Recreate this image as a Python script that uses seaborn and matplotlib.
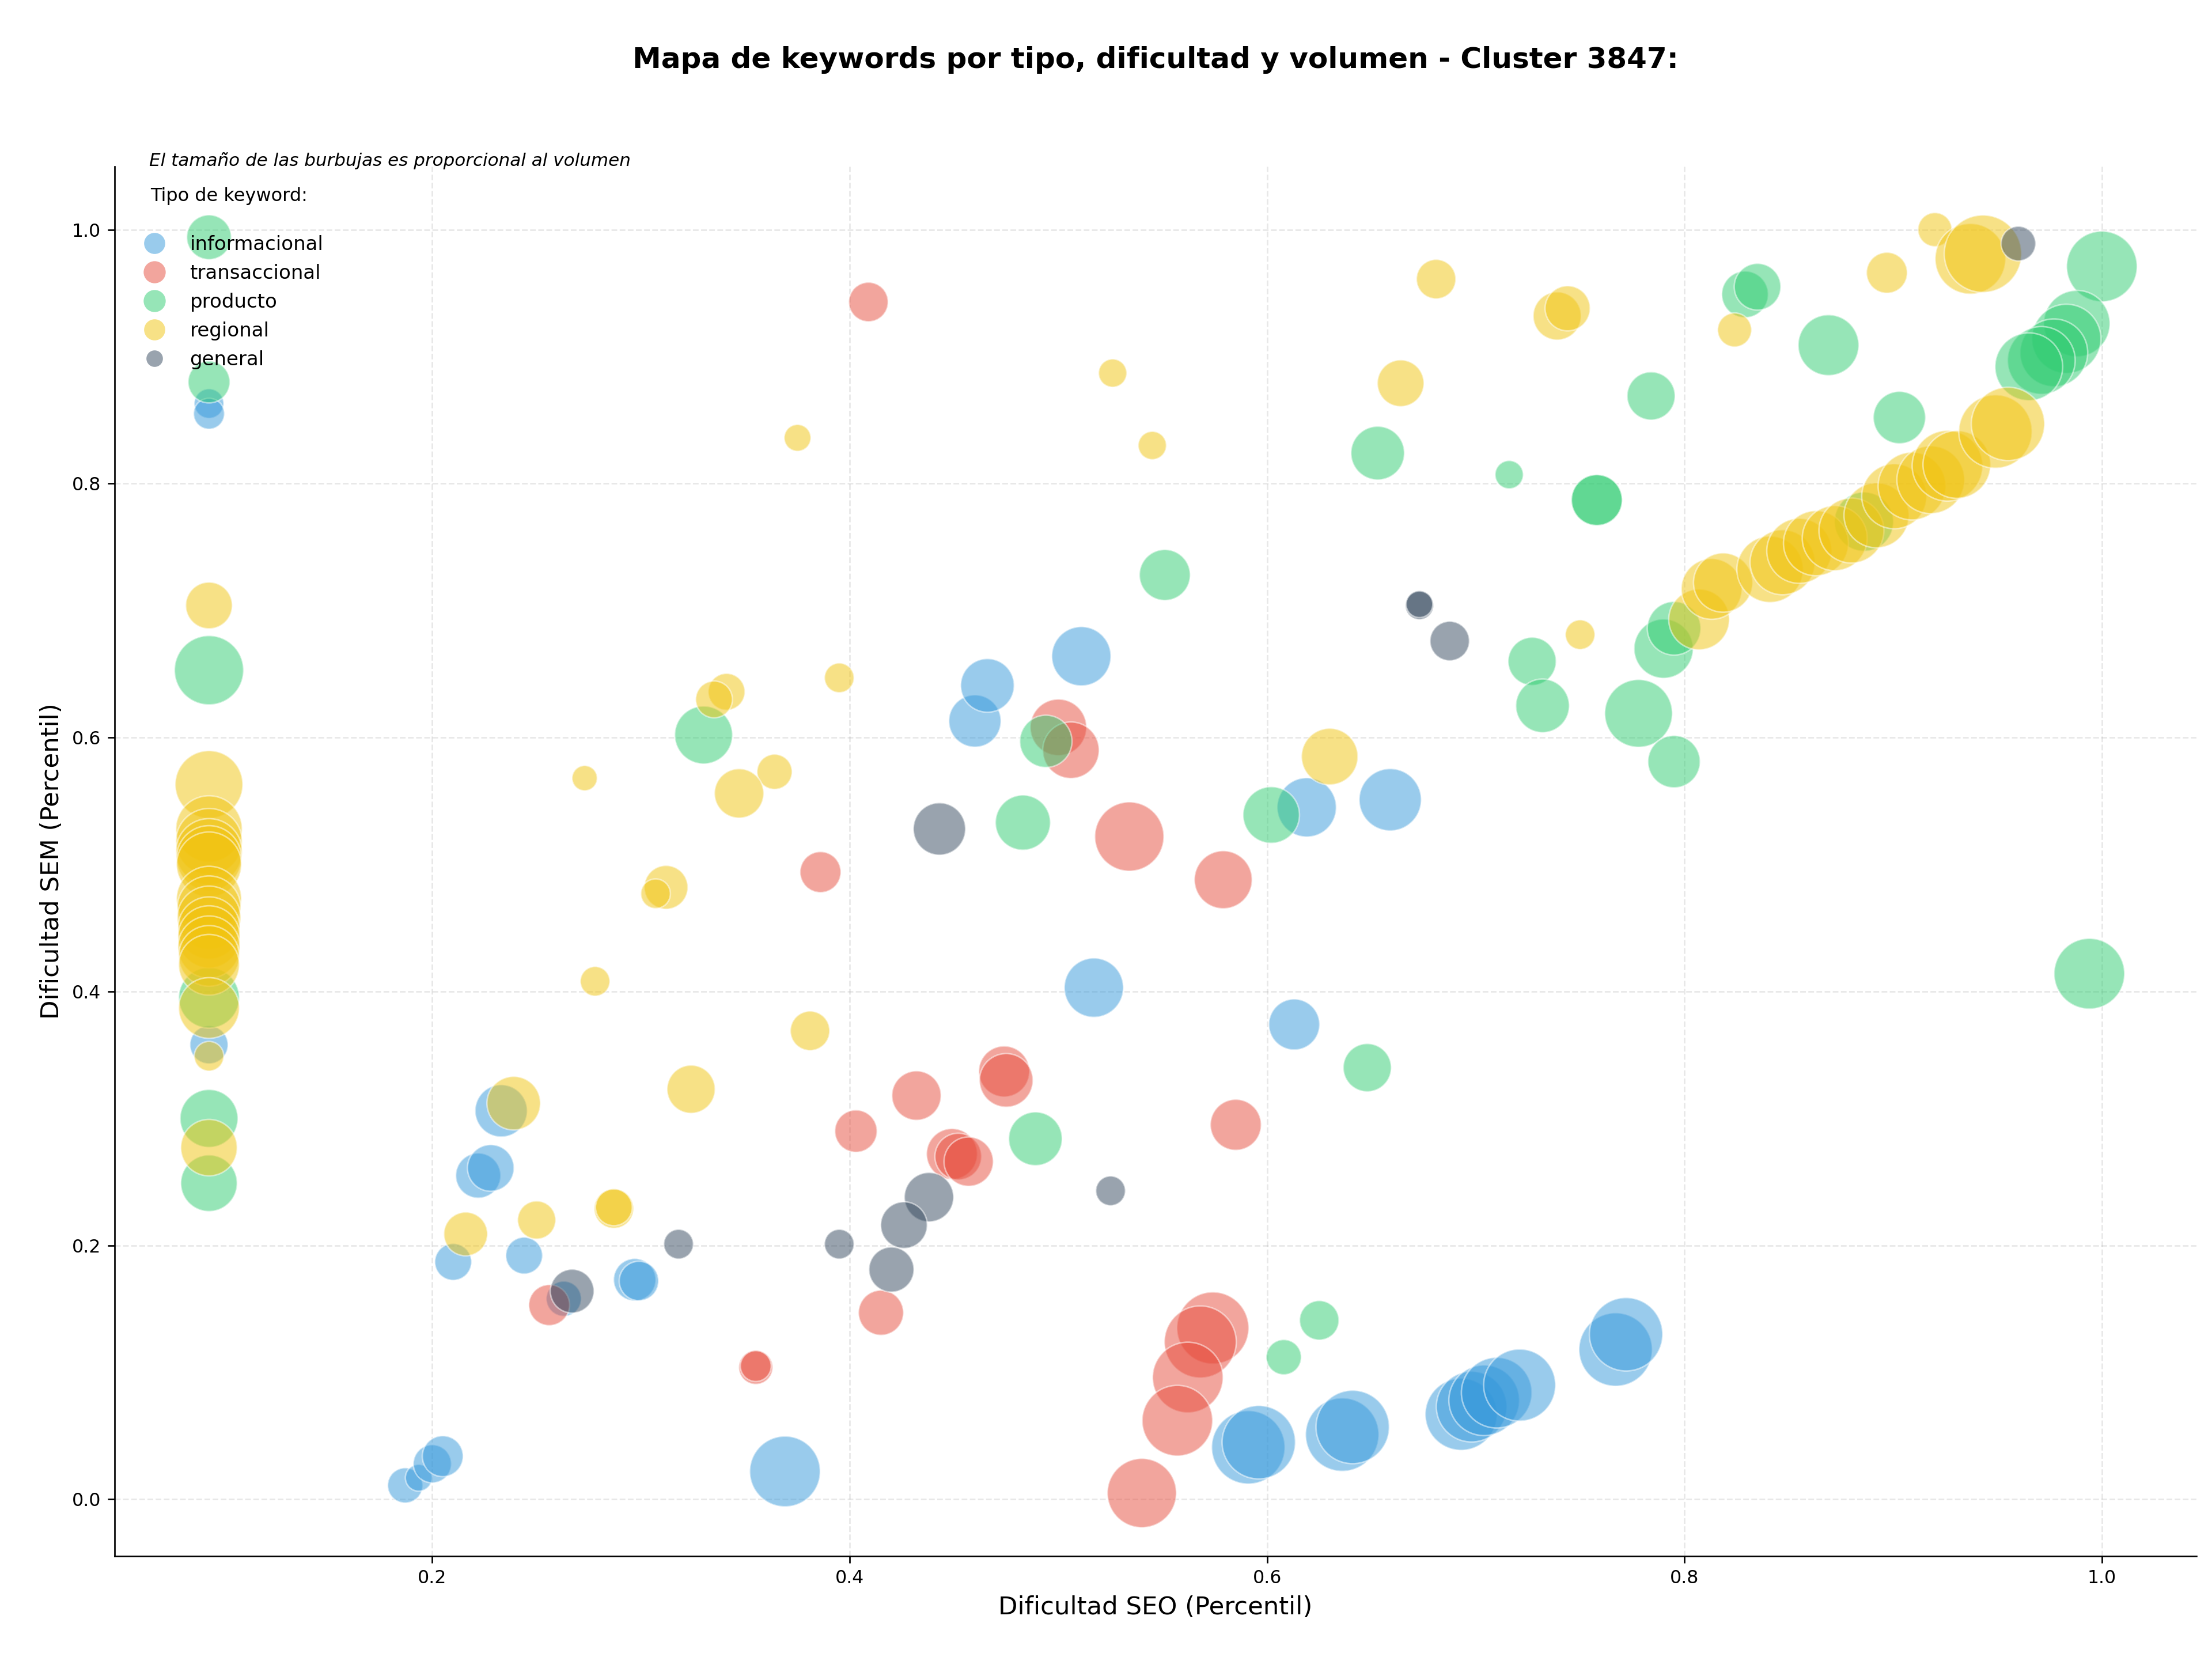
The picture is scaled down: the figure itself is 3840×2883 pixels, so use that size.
import pandas as pd
import matplotlib.pyplot as plt
from matplotlib.lines import Line2D
import seaborn as sns

# Tipos de keyword y colores
tipos = ['informacional', 'transaccional', 'producto', 'regional', 'general']
colores = {'informacional': '#3498db', 'transaccional': '#e74c3c',
           'producto': '#2ecc71', 'regional': '#f1c40f', 'general': '#34495e'}

# informacional
info_seo = [0.093, 0.093, 0.093, 0.187, 0.1935, 0.200, 0.205, 0.210, 0.222, 0.228, 0.233, 0.244,
            0.263, 0.297, 0.299, 0.369, 0.460, 0.466, 0.511, 0.517, 0.613, 0.619, 0.659, 0.591,
            0.596, 0.636, 0.641, 0.693, 0.698, 0.704, 0.710, 0.721, 0.767, 0.772]
info_sem = [0.863, 0.855, 0.358, 0.011, 0.017, 0.028, 0.034, 0.187, 0.255, 0.261, 0.306, 0.192,
            0.158, 0.173, 0.172, 0.022, 0.613, 0.641, 0.664, 0.403, 0.374, 0.545, 0.551, 0.041,
            0.045, 0.051, 0.057, 0.067, 0.073, 0.078, 0.084, 0.090, 0.118, 0.130]
info_vol = [440, 480, 730, 620, 360, 730, 840, 680, 1020, 1090, 1370, 680,
            620, 900, 780, 2500, 1370, 1440, 1760, 1760, 1300, 1760, 1940, 2700,
            2700, 2700, 2700, 2600, 2500, 2500, 2500, 2600, 2700, 2700]

# transaccional
trans_seo = [0.409, 0.386, 0.355, 0.355, 0.256, 0.403, 0.415, 0.432, 0.449, 0.452, 0.457, 0.474,
             0.475, 0.500, 0.506, 0.534, 0.579, 0.585, 0.574, 0.568, 0.562, 0.557, 0.540]
trans_sem = [0.943, 0.494, 0.104, 0.105, 0.153, 0.290, 0.147, 0.318, 0.272, 0.270, 0.266, 0.337,
             0.330, 0.608, 0.590, 0.522, 0.488, 0.295, 0.135, 0.124, 0.096, 0.062, 0.005]
trans_vol = [780, 840, 580, 480, 840, 900, 1020, 1220, 1300, 1090, 1220, 1300,
             1440, 1600, 1600, 2400, 1680, 1300, 2600, 2600, 2500, 2500, 2400]

# producto
prod_seo = [0.093, 0.093, 0.093, 0.093, 0.093, 0.093, 0.330, 0.483, 0.494, 0.489, 0.551, 0.602,
            0.625, 0.608, 0.648, 0.653, 0.716, 0.758, 0.758, 0.727, 0.732, 0.778, 0.795, 0.790,
            0.795, 0.784, 0.829, 0.835, 0.869, 0.903, 1.000, 0.988, 0.983, 0.977, 0.971, 0.965,
            0.994, 0.886]
prod_sem = [0.994, 0.880, 0.653, 0.395, 0.300, 0.249, 0.602, 0.533, 0.597, 0.284, 0.728, 0.539,
            0.141, 0.112, 0.340, 0.824, 0.807, 0.787, 0.787, 0.660, 0.625, 0.619, 0.581, 0.670,
            0.686, 0.869, 0.949, 0.955, 0.909, 0.852, 0.971, 0.926, 0.914, 0.903, 0.897, 0.892,
            0.414, 0.770]
prod_vol = [1000, 880, 2400, 1850, 1680, 1600, 1680, 1520, 1370, 1440, 1300, 1600,
            780, 620, 1160, 1440, 400, 1300, 1300, 1160, 1440, 2300, 1370, 1760,
            1440, 1160, 1090, 1090, 1850, 1370, 2500, 2210, 2400, 2300, 2300, 2300,
            2500, 1760]

# regional
reg_seo = [0.093, 0.093, 0.093, 0.093, 0.093, 0.093, 0.093, 0.093, 0.093, 0.093, 0.093, 0.093,
           0.093, 0.093, 0.093, 0.093, 0.093, 0.093,
           0.375, 0.273, 0.341, 0.335, 0.364, 0.347, 0.395, 0.312, 0.307, 0.278, 0.381, 0.324,
           0.239, 0.216, 0.250, 0.287, 0.287, 0.526, 0.545, 0.630, 0.681, 0.664, 0.739, 0.744,
           0.750, 0.824, 0.897, 0.920, 0.937, 0.943,
           0.807, 0.813, 0.8185, 0.841, 0.847, 0.855, 0.863, 0.872, 0.880, 0.892, 0.9005, 0.909,
           0.918, 0.926, 0.9305, 0.949, 0.955]
reg_sem = [0.704, 0.563, 0.528, 0.518, 0.510, 0.505, 0.500, 0.473, 0.466, 0.458, 0.450, 0.443,
           0.435, 0.428, 0.421, 0.387, 0.349, 0.277,
           0.836, 0.568, 0.636, 0.630, 0.573, 0.556, 0.647, 0.482, 0.477, 0.408, 0.369, 0.323,
           0.312, 0.209, 0.220, 0.229, 0.230, 0.887, 0.830, 0.585, 0.961, 0.879, 0.932, 0.938,
           0.681, 0.921, 0.966, 1.000, 0.977, 0.981,
           0.693, 0.717, 0.722, 0.7325, 0.738, 0.747, 0.753, 0.757, 0.763, 0.775, 0.790, 0.798,
           0.803, 0.814, 0.815, 0.841, 0.847]
reg_vol = [1090, 2300, 2210, 2210, 2210, 2120, 2120, 2120, 2020, 2020, 1940, 1940,
           1940, 1850, 1850, 1850, 440, 1600,
           360, 320, 680, 680, 620, 1220, 440, 960, 440, 440, 780, 1160,
           1440, 960, 730, 780, 680, 400, 400, 1600, 780, 1090, 1160, 1020,
           440, 580, 840, 580, 2500, 3140,
           1850, 1850, 1760, 2210, 2120, 2120, 2120, 2120, 2120, 2120, 2120, 2300,
           2300, 2500, 2300, 2700, 2700]

# general
gen_seo = [0.673, 0.673, 0.6875, 0.443, 0.318, 0.395, 0.438, 0.426, 0.420, 0.267, 0.525, 0.960]
gen_sem = [0.704, 0.705, 0.676, 0.528, 0.201, 0.201, 0.238, 0.216, 0.181, 0.164, 0.243, 0.989]
gen_vol = [400, 360, 780, 1370, 440, 440, 1220, 1090, 1020, 960, 440, 600]

series = {
    'informacional': (info_seo, info_sem, info_vol),
    'transaccional': (trans_seo, trans_sem, trans_vol),
    'producto': (prod_seo, prod_sem, prod_vol),
    'regional': (reg_seo, reg_sem, reg_vol),
    'general': (gen_seo, gen_sem, gen_vol),
}
frames = []
for tipo, (seo, sem, vol) in series.items():
    frames.append(pd.DataFrame({'seo': seo, 'sem': sem, 'volumen': vol, 'tipo': tipo}))
df = pd.concat(frames, ignore_index=True)

fig, ax = plt.subplots(figsize=(16, 12.0125), dpi=240)
fig.subplots_adjust(left=0.0517, right=0.993, bottom=0.0631, top=0.8998)

# burbujas: area proporcional al volumen
for tipo in tipos:
    sub = df[df['tipo'] == tipo]
    sns.scatterplot(data=sub, x='seo', y='sem', size='volumen',
                    sizes=(0, 1620), size_norm=(0, 3000),
                    color=colores[tipo], alpha=0.5, edgecolor='white',
                    linewidth=0.8, legend=False, ax=ax)

ax.grid(True, linestyle='--', alpha=0.3)
ax.set_axisbelow(True)
sns.despine(ax=ax)
ax.set_xlabel('Dificultad SEO (Percentil)', fontsize=13)
ax.set_ylabel('Dificultad SEM (Percentil)', fontsize=13)
ax.tick_params(axis='both', labelsize=9.5)

# leyenda
tam_leyenda = {'informacional': 11, 'transaccional': 11.5, 'producto': 11.5,
               'regional': 11, 'general': 8.6}
handles = [Line2D([], [], marker='o', linestyle='', markerfacecolor=colores[t],
                  markeredgecolor='none', alpha=0.5, markersize=tam_leyenda[t])
           for t in tipos]
ax.legend(handles, tipos, loc='upper left', frameon=False, borderaxespad=0.65,
          title='Tipo de keyword:\n', fontsize=10.2, title_fontsize=9.6)

ax.text(0.0166, 1.004, 'El tamaño de las burbujas es proporcional al volumen',
        transform=ax.transAxes, fontsize=9.3, style='italic', va='center', ha='left')

fig.text(0.5224, 0.964, 'Mapa de keywords por tipo, dificultad y volumen - Cluster 3847:',
         ha='center', va='center', fontsize=15, fontweight='bold')

plt.savefig('out.png', dpi=240)
